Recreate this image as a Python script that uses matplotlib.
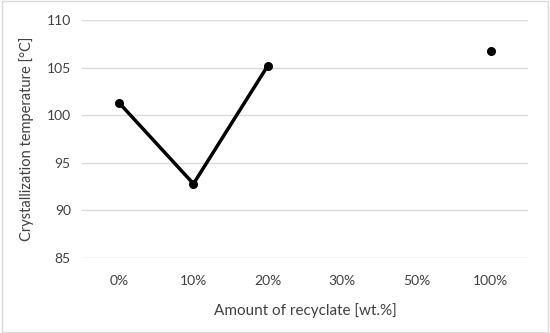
import matplotlib
matplotlib.use("Agg")
import matplotlib.pyplot as plt
import numpy as np

categories = ["0%", "10%", "20%", "30%", "50%", "100%"]
values = [101.3, 92.8, 105.2, np.nan, np.nan, 106.7]
yticks = [85, 90, 95, 100, 105, 110]

plt.rcParams['font.family'] = ['Lato', 'DejaVu Sans']
txt = '#404040'

fig = plt.figure(figsize=(5.5, 3.33), dpi=100)
ax = fig.add_axes([0.149, 0.225, 0.811, 0.715])
x = np.arange(len(categories))
ax.plot(x, values, color='black', lw=2.5, marker='o', ms=5.5, solid_capstyle='round', zorder=3)
ax.set_xlim(-0.5, len(categories) - 0.5)
ax.set_ylim(85, 110)
ax.set_yticks(yticks)
ax.set_xticks(x)
ax.set_xticklabels(categories)
ax.grid(axis='y', color='#d9d9d9', lw=1)
ax.set_axisbelow(True)
for s in ax.spines.values():
    s.set_visible(False)
ax.tick_params(length=0, colors=txt, labelsize=10)
ax.tick_params(axis='x', pad=12)
ax.tick_params(axis='y', pad=8)
ax.set_xlabel("Amount of recyclate [wt.%]", color=txt, fontsize=11, labelpad=12)
ax.set_ylabel("Crystallization temperature [°C]", color=txt, fontsize=10.5, labelpad=9)

border = plt.Rectangle((0.003, 0.004), 0.994, 0.992, transform=fig.transFigure,
                       fill=False, edgecolor='#d9d9d9', lw=1)
fig.patches.append(border)

fig.savefig("out.png", dpi=100)
